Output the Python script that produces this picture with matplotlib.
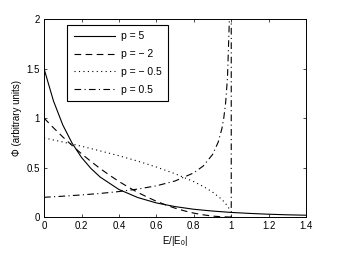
import numpy as np
from matplotlib import pyplot as plt

plt.rcParams['font.family'] = ['Liberation Sans', 'DejaVu Sans']
plt.rcParams['mathtext.fontset'] = 'custom'
plt.rcParams['mathtext.rm'] = 'Liberation Sans'
plt.rcParams['mathtext.it'] = 'Liberation Sans'

# p = 5
x_p5 = [0, 0.05, 0.1, 0.15, 0.2, 0.25, 0.3, 0.4, 0.5, 0.6, 0.7, 0.8, 0.9, 1.0, 1.1, 1.2, 1.3, 1.4]
y_p5 = [1.5, 1.175, 0.931, 0.746, 0.603, 0.492, 0.404, 0.279, 0.198, 0.143, 0.106, 0.079,
        0.061, 0.047, 0.037, 0.029, 0.023, 0.019]

# p = -2
x_m2 = [0, 0.05, 0.1, 0.15, 0.2, 0.25, 0.3, 0.35, 0.4, 0.45, 0.5, 0.55, 0.6, 0.65, 0.7,
        0.75, 0.8, 0.85, 0.9, 0.95, 1.0]
y_m2 = [1.0, 0.903, 0.81, 0.723, 0.64, 0.563, 0.49, 0.423, 0.36, 0.303, 0.25, 0.203, 0.16,
        0.123, 0.09, 0.063, 0.04, 0.023, 0.01, 0.003, 0.0]

# p = -0.5
x_m05 = [0, 0.1, 0.2, 0.3, 0.4, 0.5, 0.6, 0.7, 0.8, 0.85, 0.9, 0.95, 0.98, 0.99]
y_m05 = [0.8, 0.759, 0.716, 0.669, 0.62, 0.566, 0.506, 0.438, 0.358, 0.31, 0.253, 0.179,
         0.113, 0.08]

# p = 0.5
x_p05 = [0, 0.1, 0.2, 0.3, 0.4, 0.5, 0.6, 0.7, 0.8, 0.85, 0.9, 0.93, 0.95, 0.96, 0.97,
         0.98, 0.99, 1.0, 1.0]
y_p05 = [0.2, 0.211, 0.224, 0.239, 0.258, 0.283, 0.316, 0.365, 0.447, 0.516, 0.632, 0.756,
         0.894, 1.0, 1.155, 1.414, 2.0, 2.5, 0.0]

xticks = [0, 0.2, 0.4, 0.6, 0.8, 1.0, 1.2, 1.4]
xticklabels = ['0', '0.2', '0.4', '0.6', '0.8', '1', '1.2', '1.4']
yticks = [0, 0.5, 1, 1.5, 2]
yticklabels = ['0', '0.5', '1', '1.5', '2']

fig = plt.figure(figsize=(3.39, 2.56), dpi=100)
ax = fig.add_axes([0.130, 0.152, 0.773, 0.773])

lw = 0.8
ax.plot(x_p5, y_p5, '-', color='k', lw=lw, label='p = 5')
ax.plot(x_m2, y_m2, '--', color='k', lw=lw, dashes=(6, 4), label='p = \u2212 2')
ax.plot(x_m05, y_m05, ':', color='k', lw=lw, dashes=(1, 3), label='p = \u2212 0.5')
ax.plot(x_p05, y_p05, '-.', color='k', lw=lw, dashes=(6, 3, 1, 3), label='p = 0.5')

ax.set_xlim(0, 1.4)
ax.set_ylim(0, 2)
ax.set_xticks(xticks)
ax.set_xticklabels(xticklabels)
ax.set_yticks(yticks)
ax.set_yticklabels(yticklabels)
ax.tick_params(direction='in', top=True, right=True, labelsize=7, length=2.5, width=0.5, pad=3)
for s in ax.spines.values():
    s.set_linewidth(0.7)

ax.set_xlabel('E/|E$_0$|', fontsize=7, labelpad=2)
ax.set_ylabel('\u03a6 (arbitrary units)', fontsize=7, labelpad=3)

leg = ax.legend(loc='upper left', bbox_to_anchor=(0.089, 0.97), fontsize=7.5,
                handlelength=4.0, labelspacing=0.75, borderpad=0.6, handletextpad=0.5,
                fancybox=False, edgecolor='k', framealpha=1, borderaxespad=0)
leg.get_frame().set_linewidth(0.8)

plt.savefig('out.png', dpi=100)
